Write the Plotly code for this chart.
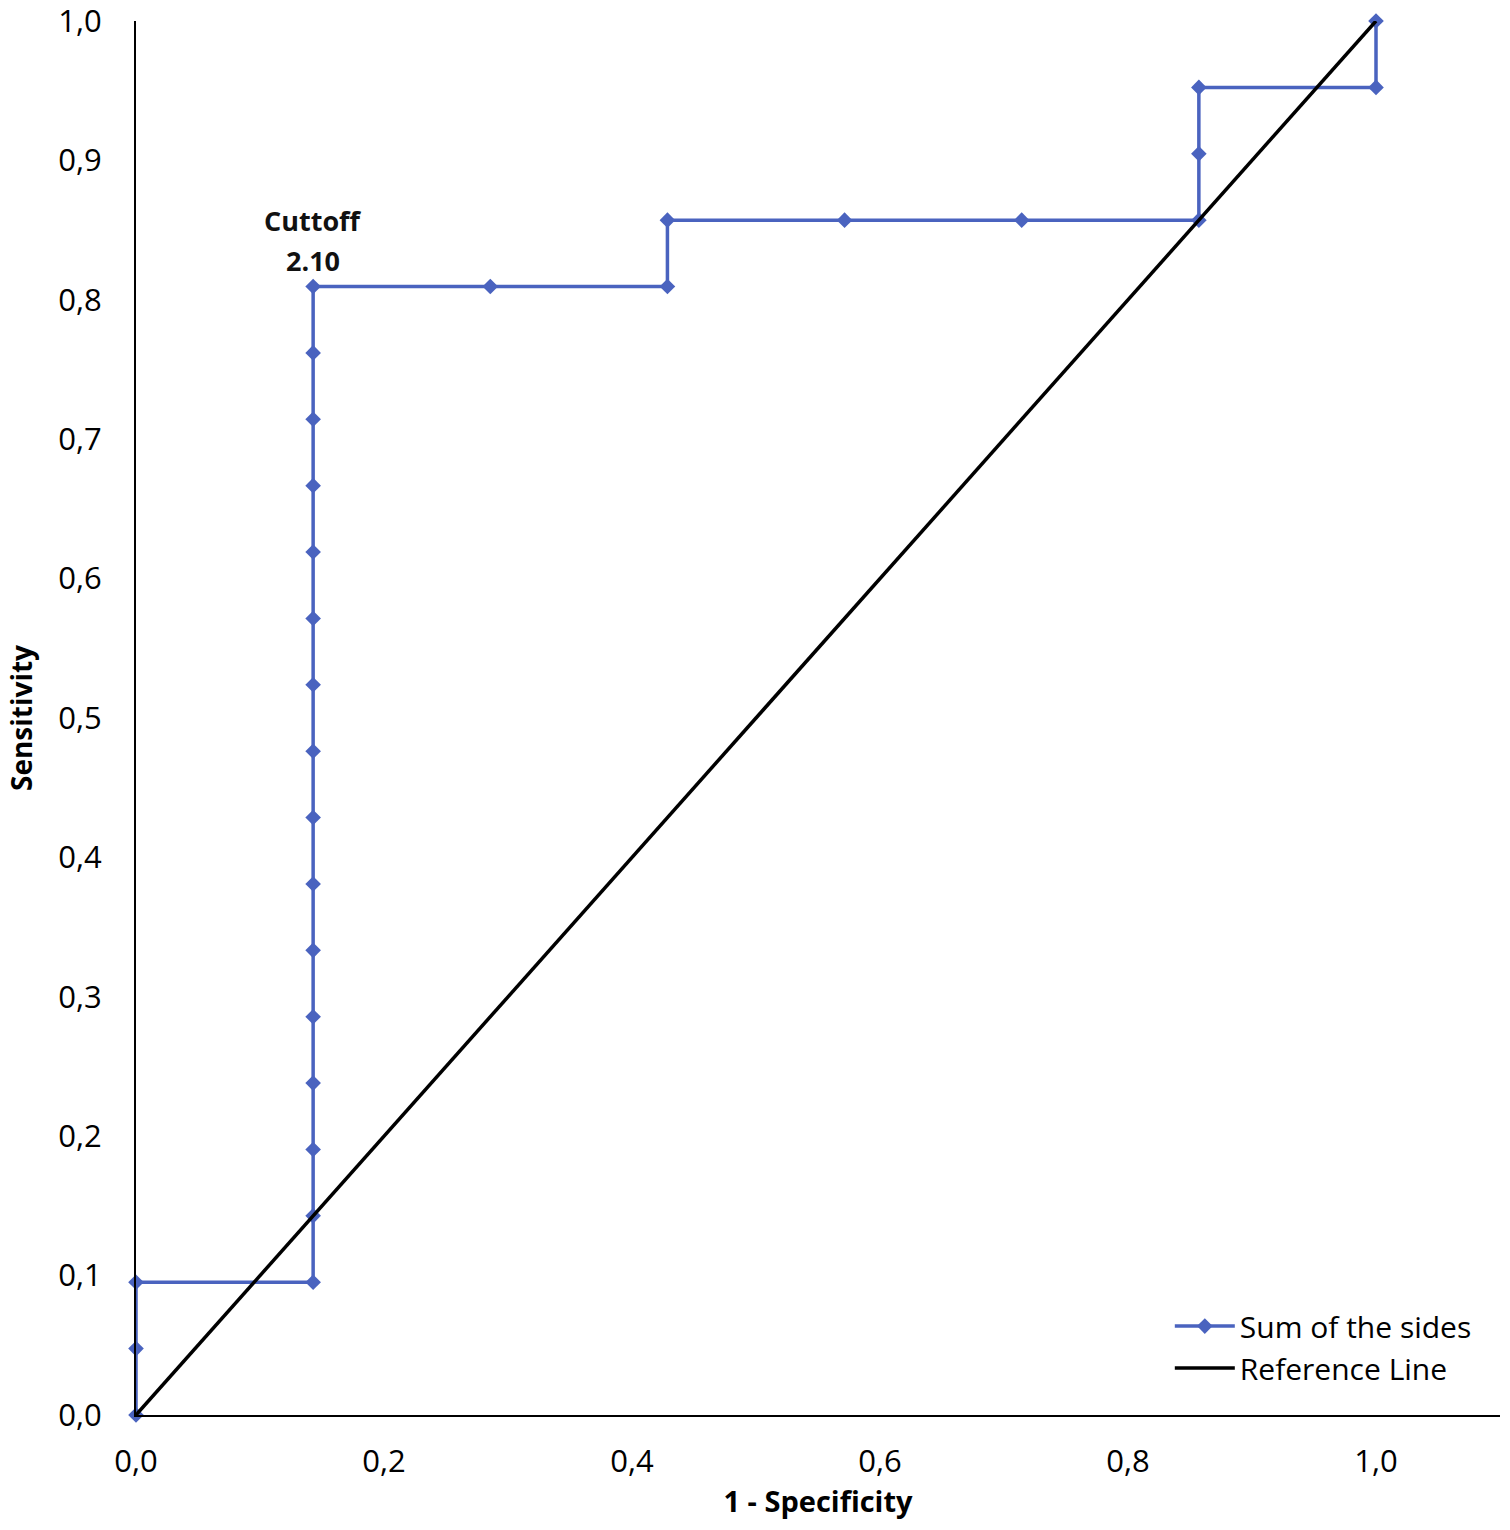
import plotly.graph_objects as go

# ROC data: 21 positives, 7 negatives
fpr = [0, 0, 0] + [1/7] * 16 + [2/7, 3/7, 3/7, 4/7, 5/7, 6/7, 6/7, 6/7, 1, 1]
tpr_counts = [0, 1, 2] + list(range(2, 18)) + [17, 17, 18, 18, 18, 18, 19, 20, 20, 21]
tpr = [c / 21 for c in tpr_counts]

ref_x = [0, 1]
ref_y = [0, 1]

x_ticks = [0, 0.2, 0.4, 0.6, 0.8, 1.0]
x_labels = ["0,0", "0,2", "0,4", "0,6", "0,8", "1,0"]
y_ticks = [0, 0.1, 0.2, 0.3, 0.4, 0.5, 0.6, 0.7, 0.8, 0.9, 1.0]
y_labels = ["0,0", "0,1", "0,2", "0,3", "0,4", "0,5", "0,6", "0,7", "0,8", "0,9", "1,0"]

FONT = "Open Sans"
BLUE = "#4a63bf"

fig = go.Figure()
fig.add_trace(go.Scatter(
    x=fpr, y=tpr, mode="lines+markers", name="Sum of the sides",
    line=dict(color=BLUE, width=3.5),
    marker=dict(symbol="diamond", size=12, color=BLUE),
    cliponaxis=False,
))
fig.add_trace(go.Scatter(
    x=ref_x, y=ref_y, mode="lines", name="Reference Line",
    line=dict(color="black", width=3.5),
    cliponaxis=False,
))

fig.add_annotation(
    x=1/7, y=0.857, xref="x", yref="y", showarrow=False,
    text="<b>Cuttoff</b>", xanchor="center", yanchor="middle",
    font=dict(family=FONT, size=27, color="#111"),
)
fig.add_annotation(
    x=1/7, y=0.8285, xref="x", yref="y", showarrow=False,
    text="<b>2.10</b>", xanchor="center", yanchor="middle",
    font=dict(family=FONT, size=27, color="#111"),
)

fig.update_layout(
    width=1510, height=1530,
    margin=dict(l=136, r=10, t=21, b=115, autoexpand=False),
    paper_bgcolor="white", plot_bgcolor="white",
    font=dict(family=FONT, size=31, color="black"),
    showlegend=True,
    legend=dict(
        x=0.983, y=0.015, xanchor="right", yanchor="bottom",
        font=dict(family=FONT, size=30, color="black"),
        bgcolor="rgba(0,0,0,0)", tracegroupgap=0, itemwidth=60,
    ),
    xaxis=dict(
        range=[0, 1.1], tickvals=x_ticks, ticktext=x_labels,
        showgrid=False, zeroline=False, showline=True, linecolor="black", linewidth=2,
        ticks="", ticklabelstandoff=18, automargin=False, ticklabeloverflow="allow",
        title=dict(text="<b>1 - Specificity</b>", font=dict(family=FONT, size=29), standoff=2),
    ),
    yaxis=dict(
        range=[0, 1], tickvals=y_ticks, ticktext=y_labels,
        showgrid=False, zeroline=False, showline=True, linecolor="black", linewidth=2,
        ticks="", ticklabelstandoff=26, automargin=False, ticklabeloverflow="allow",
        title=dict(text="<b>Sensitivity</b>", font=dict(family=FONT, size=28), standoff=18),
    ),
)

fig.write_html("out.html", config={"displayModeBar": False},
               post_script="document.body.style.margin='0';")
